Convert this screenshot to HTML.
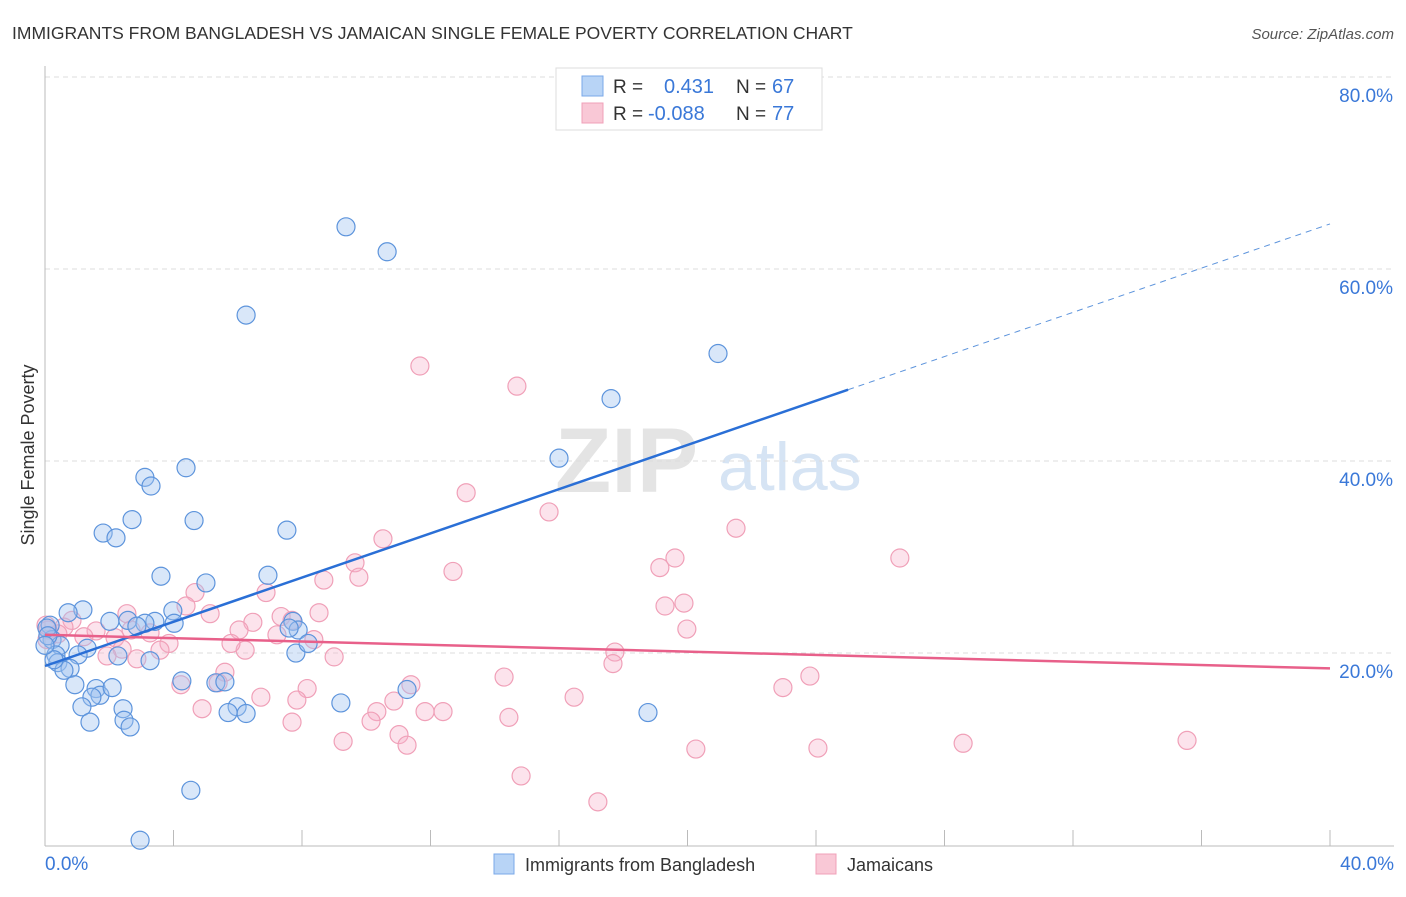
<!DOCTYPE html>
<html><head><meta charset="utf-8"><style>
body{margin:0;background:#fff;font-family:"Liberation Sans",sans-serif;}
svg text{font-family:"Liberation Sans",sans-serif;}
</style></head><body>
<svg id="chart" width="1406" height="892" viewBox="0 0 1406 892">
<text x="12" y="39" font-size="17.5" fill="#333">IMMIGRANTS FROM BANGLADESH VS JAMAICAN SINGLE FEMALE POVERTY CORRELATION CHART</text>
<text x="1394" y="39" font-size="15" fill="#555" font-style="italic" text-anchor="end">Source: ZipAtlas.com</text>
<text x="34" y="455" font-size="18" fill="#333" text-anchor="middle" transform="rotate(-90 34 455)">Single Female Poverty</text>
<g><text x="555" y="492" font-size="92" fill="#e4e4e4" font-family="Liberation Serif" font-weight="bold">ZIP</text><text x="718" y="490" font-size="68" fill="#d6e4f4">atlas</text></g>
<g id="grid"></g><g id="axes"></g><g id="pts"></g><g id="trend"></g>
<g>
<rect x="556" y="68" width="266" height="62" fill="#fff" stroke="#ddd"/>
<rect x="582" y="76" width="21" height="20" fill="#b8d4f6" stroke="#7aa8e8"/>
<text x="613" y="93" font-size="19" fill="#333">R =</text><text x="664" y="93" font-size="20" fill="#3a78d8">0.431</text>
<text x="736" y="93" font-size="19" fill="#333">N =</text><text x="772" y="93" font-size="20" fill="#3a78d8">67</text>
<rect x="582" y="103" width="21" height="20" fill="#f9c8d6" stroke="#f0a0b8"/>
<text x="613" y="120" font-size="19" fill="#333">R =</text><text x="648" y="120" font-size="20" fill="#3a78d8">-0.088</text>
<text x="736" y="120" font-size="19" fill="#333">N =</text><text x="772" y="120" font-size="20" fill="#3a78d8">77</text>
</g>
<g>
<rect x="494" y="854" width="20" height="20" fill="#b8d4f6" stroke="#7aa8e8"/>
<text x="525" y="871" font-size="18" fill="#333">Immigrants from Bangladesh</text>
<rect x="816" y="854" width="20" height="20" fill="#f9c8d6" stroke="#f0a0b8"/>
<text x="847" y="871" font-size="18" fill="#333">Jamaicans</text>
</g>
</svg>
<script>
const blueX=[9.37,10.65,6.26,20.95,17.62,16.0,3.11,4.39,3.30,1.81,2.71,2.21,4.64,7.53,3.61,5.01,6.94,1.18,0.72,2.02,2.58,3.42,3.98,4.02,3.11,2.86,0.16,0.22,0.47,1.31,1.03,0.34,0.40,0.78,0.59,2.27,3.27,7.72,7.88,7.60,7.81,8.19,0.93,1.59,1.71,2.09,1.46,4.26,5.32,5.60,1.15,2.43,1.40,2.46,2.65,5.98,5.70,6.26,11.27,9.21,18.77,4.54,2.96,0.06,0.09,0.28,0.0];
const blueY=[64.5,61.9,55.3,51.3,46.6,40.4,38.4,39.4,37.5,32.6,34.0,32.1,33.9,32.9,28.1,27.4,28.2,24.6,24.3,23.4,23.5,23.4,24.5,23.2,23.2,22.9,23.0,21.5,20.9,20.6,19.9,19.9,19.1,18.5,18.3,19.8,19.3,23.4,22.5,22.7,20.1,21.1,16.8,16.4,15.7,16.5,15.5,17.2,17.0,17.1,14.5,14.3,12.9,13.1,12.4,14.5,13.9,13.8,16.3,14.9,13.9,5.8,0.6,22.7,21.9,19.4,20.9];
const pinkX=[11.67,14.69,13.11,15.69,21.51,10.52,9.65,26.61,19.61,19.14,12.70,9.77,8.68,6.88,4.67,19.89,19.30,8.53,5.14,4.39,2.55,7.35,6.47,7.69,19.98,6.04,7.22,0.84,0.59,1.59,2.18,1.21,2.68,3.27,0.40,0.09,0.06,2.40,3.86,3.58,6.23,5.79,8.37,9.00,1.93,2.86,17.74,17.68,5.60,14.29,23.81,22.97,11.39,8.16,4.23,5.39,7.84,6.72,10.86,16.47,4.89,10.33,11.83,12.39,14.44,10.15,7.69,11.02,9.28,11.27,20.26,24.06,28.58,35.55,14.82,17.21,0.03];
const pinkY=[50.0,47.9,36.8,34.8,33.1,32.0,29.5,30.0,30.0,29.0,28.6,28.0,27.7,26.4,26.4,25.3,25.0,24.3,24.2,25.0,24.2,23.9,23.3,23.5,22.6,22.5,22.0,23.5,22.8,22.4,21.7,21.8,22.5,22.2,22.1,22.5,21.5,20.5,21.1,20.4,20.4,21.1,21.5,19.7,19.8,19.5,20.2,19.0,18.1,17.6,17.7,16.5,16.8,16.4,16.8,17.0,15.2,15.5,15.1,15.5,14.3,14.0,14.0,14.0,13.4,13.0,12.9,11.6,10.9,10.5,10.1,10.2,10.7,11.0,7.3,4.6,23.0];
const blueTrend=[18.75,64.8];
const pinkTrend=[22.0,18.5];
const yTicks=[20,40,60,80];
const xTickLabels=["0.0%","40.0%"];
const NS="http://www.w3.org/2000/svg";
const X=v=>45+v*32.125, Y=v=>846-v*9.6;
function mk(tag,attrs,parent){const e=document.createElementNS(NS,tag);for(const k in attrs)e.setAttribute(k,attrs[k]);parent.appendChild(e);return e;}
const grid=document.getElementById('grid'),axes=document.getElementById('axes'),pts=document.getElementById('pts'),tr=document.getElementById('trend');
yTicks.forEach(t=>{
 const l=mk('line',{x1:45,x2:1394,y1:Y(t)-1,y2:Y(t)-1,stroke:'#ddd','stroke-dasharray':'5,4'},grid);
 
 
 const tx=mk('text',{x:1393,y:Y(t)+24,'font-size':19,fill:'#3a78d8','text-anchor':'end'},axes);
 tx.textContent=t.toFixed(1)+'%';
 
 
});
const ax=mk('line',{x1:45,x2:1394,y1:846,y2:846,stroke:'#bbb'},axes);


const ay=mk('line',{x1:45,x2:45,y1:66,y2:846,stroke:'#bbb'},axes);


for(let i=0;i<=10;i++){const t=mk('line',{x1:X(i*4),x2:X(i*4),y1:830,y2:846,stroke:'#bbb'},axes);
 
 }
[[0,'start',45],[40,'end',1394]].forEach((a,i)=>{const t=mk('text',{x:a[2],y:870,'font-size':19,fill:'#3a78d8','text-anchor':a[1]},axes);t.textContent=xTickLabels[i];
 
 });
pinkX.forEach((x,i)=>{const c=mk('circle',{cx:X(x),cy:Y(pinkY[i]),r:9,fill:'rgba(246,176,200,0.35)',stroke:'#f0a0b8','stroke-width':1.2},pts);
 
 });
blueX.forEach((x,i)=>{const c=mk('circle',{cx:X(x),cy:Y(blueY[i]),r:9,fill:'rgba(160,196,240,0.4)',stroke:'#5d94dc','stroke-width':1.2},pts);
 
 });
const bAt=x=>blueTrend[0]+(blueTrend[1]-blueTrend[0])*x/40;
const b1=mk('line',{x1:X(0),y1:Y(bAt(0)),x2:X(25),y2:Y(bAt(25)),stroke:'#2a6fd6','stroke-width':2.5},tr);


const b2=mk('line',{x1:X(25),y1:Y(bAt(25)),x2:X(40),y2:Y(bAt(40)),stroke:'#5d94dc','stroke-width':1,'stroke-dasharray':'6,5'},tr);


const p1=mk('line',{x1:X(0),y1:Y(pinkTrend[0]),x2:X(40),y2:Y(pinkTrend[1]),stroke:'#e8608a','stroke-width':2.5},tr);


</script>
</body></html>
